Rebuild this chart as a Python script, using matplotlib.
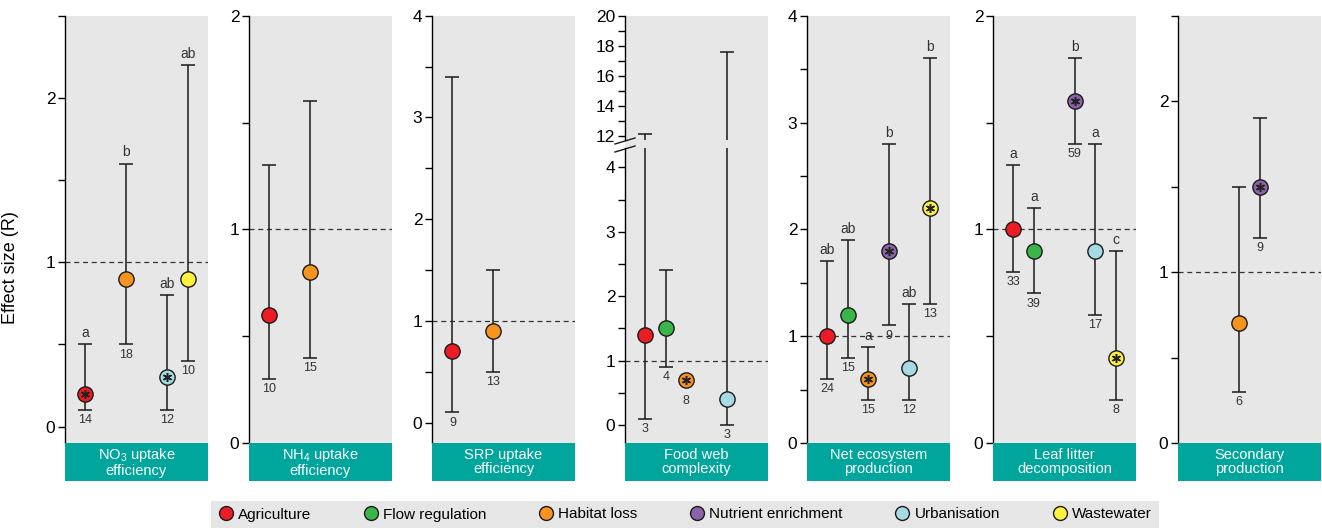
import numpy as np
import matplotlib
matplotlib.use("Agg")
import matplotlib.pyplot as plt
from matplotlib.lines import Line2D
from matplotlib.ticker import MultipleLocator

plt.rcParams['font.family'] = ['Liberation Sans', 'DejaVu Sans']
plt.rcParams['mathtext.fontset'] = 'custom'
plt.rcParams['mathtext.rm'] = 'Liberation Sans'

# Drivers and their colours
drivers = ['Agriculture', 'Flow regulation', 'Habitat loss',
           'Nutrient enrichment', 'Urbanisation', 'Wastewater']
driver_colors = ['#ed1c24', '#39b54a', '#f7941d', '#8c62a8', '#a6dbe4', '#fff23e']

# NO3 uptake efficiency
no3_drivers = ['Agriculture', 'Habitat loss', 'Urbanisation', 'Wastewater']
no3_mean = [0.2, 0.9, 0.3, 0.9]
no3_low = [0.1, 0.5, 0.1, 0.4]
no3_high = [0.5, 1.6, 0.8, 2.2]
no3_n = ['14', '18', '12', '10']
no3_letters = ['a', 'b', 'ab', 'ab']
no3_sig = [True, False, True, False]

# NH4 uptake efficiency
nh4_drivers = ['Agriculture', 'Habitat loss']
nh4_mean = [0.6, 0.8]
nh4_low = [0.3, 0.4]
nh4_high = [1.3, 1.6]
nh4_n = ['10', '15']
nh4_letters = ['', '']
nh4_sig = [False, False]

# SRP uptake efficiency
srp_drivers = ['Agriculture', 'Habitat loss']
srp_mean = [0.7, 0.9]
srp_low = [0.1, 0.5]
srp_high = [3.4, 1.5]
srp_n = ['9', '13']
srp_letters = ['', '']
srp_sig = [False, False]

# Food web complexity
fw_drivers = ['Agriculture', 'Flow regulation', 'Habitat loss', 'Urbanisation']
fw_mean = [1.4, 1.5, 0.7, 0.4]
fw_low = [0.1, 0.9, np.nan, 0.0]
fw_high = [12.1, 2.4, np.nan, 17.6]
fw_n = ['3', '4', '8', '3']
fw_letters = ['', '', '', '']
fw_sig = [False, False, True, False]

# Net ecosystem production
nep_drivers = drivers
nep_mean = [1.0, 1.2, 0.6, 1.8, 0.7, 2.2]
nep_low = [0.6, 0.8, 0.4, 1.1, 0.4, 1.3]
nep_high = [1.7, 1.9, 0.9, 2.8, 1.3, 3.6]
nep_n = ['24', '15', '15', '9', '12', '13']
nep_letters = ['ab', 'ab', 'a', 'b', 'ab', 'b']
nep_sig = [False, False, True, True, False, True]

# Leaf litter decomposition
leaf_drivers = ['Agriculture', 'Flow regulation', 'Nutrient enrichment',
                'Urbanisation', 'Wastewater']
leaf_mean = [1.0, 0.9, 1.6, 0.9, 0.4]
leaf_low = [0.8, 0.7, 1.4, 0.6, 0.2]
leaf_high = [1.3, 1.1, 1.8, 1.4, 0.9]
leaf_n = ['33', '39', '59', '17', '8']
leaf_letters = ['a', 'a', 'b', 'a', 'c']
leaf_sig = [False, False, True, False, True]

# Secondary production
sec_drivers = ['Habitat loss', 'Nutrient enrichment']
sec_mean = [0.7, 1.5]
sec_low = [0.3, 1.2]
sec_high = [1.5, 1.9]
sec_n = ['6', '9']
sec_letters = ['', '']
sec_sig = [False, True]

panel_titles = ['NO$_3$ uptake\nefficiency', 'NH$_4$ uptake\nefficiency',
                'SRP uptake\nefficiency', 'Food web\ncomplexity',
                'Net ecosystem\nproduction', 'Leaf litter\ndecomposition',
                'Secondary\nproduction']

W, H = 1322, 529
BG = '#e7e7e8'
TEAL = '#00a69c'
ax_bottom = (H - 443) / H
ax_top = (H - 15.7) / H
panel_left = [65, 249, 432, 625, 807, 993, 1178]
panel_w = 143

fig = plt.figure(figsize=(W / 100, H / 100), dpi=100)


def style_axis(ax):
    for s in ['top', 'right', 'bottom']:
        ax.spines[s].set_visible(False)
    ax.spines['left'].set_linewidth(1.0)
    ax.set_xticks([])
    ax.tick_params(axis='y', which='major', length=5, width=1, labelsize=12.5, pad=2)
    ax.tick_params(axis='y', which='minor', length=5, width=1)
    ax.set_xlim(-1, 6)


def draw_points(ax, names, mean, low, high, n, letters, sig, annotate=True):
    xs = [drivers.index(d) for d in names]
    for x, m, lo, hi, nn, let, s, d in zip(xs, mean, low, high, n, letters, sig, names):
        c = driver_colors[drivers.index(d)]
        has_err = np.isfinite(lo) and np.isfinite(hi)
        if has_err:
            ax.errorbar([x], [m], yerr=[[m - lo], [hi - m]], fmt='none',
                        ecolor='#1a1a1a', elinewidth=1.1, capsize=4.8,
                        capthick=1.1, zorder=2)
        ax.plot([x], [m], 'o', ms=11, mfc=c, mec='#1a1a1a', mew=1.0, zorder=3)
        if s:
            ax.plot([x], [m], marker=(6, 2, 0), ms=6.5, color='#222222',
                    mew=1.1, zorder=4)
        if not annotate:
            continue
        if has_err:
            ax.annotate(nn, (x, lo), xytext=(0, -3), textcoords='offset points',
                        ha='center', va='top', fontsize=9, color='#333333')
            if let:
                ax.annotate(let, (x, hi), xytext=(0, 3), textcoords='offset points',
                            ha='center', va='bottom', fontsize=10, color='#333333')
        else:
            ax.annotate(nn, (x, m), xytext=(0, -11), textcoords='offset points',
                        ha='center', va='top', fontsize=9, color='#333333')


panels = [
    (no3_drivers, no3_mean, no3_low, no3_high, no3_n, no3_letters, no3_sig, (-0.1, 2.5), [0, 1, 2]),
    (nh4_drivers, nh4_mean, nh4_low, nh4_high, nh4_n, nh4_letters, nh4_sig, (0, 2), [0, 1, 2]),
    (srp_drivers, srp_mean, srp_low, srp_high, srp_n, srp_letters, srp_sig, (-0.2, 4), [0, 1, 2, 3, 4]),
    None,
    (nep_drivers, nep_mean, nep_low, nep_high, nep_n, nep_letters, nep_sig, (0, 4), [0, 1, 2, 3, 4]),
    (leaf_drivers, leaf_mean, leaf_low, leaf_high, leaf_n, leaf_letters, leaf_sig, (0, 2), [0, 1, 2]),
    (sec_drivers, sec_mean, sec_low, sec_high, sec_n, sec_letters, sec_sig, (0, 2.5), [0, 1, 2]),
]

for i, p in enumerate(panels):
    left = panel_left[i] / W
    width = panel_w / W
    if p is not None:
        ax = fig.add_axes([left, ax_bottom, width, ax_top - ax_bottom])
        ax.set_facecolor(BG)
        style_axis(ax)
        names, mean, low, high, n, letters, sig, ylim, yt = p
        ax.set_ylim(*ylim)
        ax.set_yticks(yt)
        ax.yaxis.set_minor_locator(MultipleLocator(0.5))
        ax.axhline(1, color='#333333', lw=0.9, ls=(0, (4, 3)), zorder=1)
        draw_points(ax, names, mean, low, high, n, letters, sig)
        if i == 0:
            ax.set_ylabel('Effect size (R)', fontsize=13)
            ax.yaxis.set_label_coords(-0.32, 0.41)
    else:
        # Food web complexity: broken axis
        bg = fig.add_axes([left, ax_bottom, width, ax_top - ax_bottom])
        bg.set_facecolor(BG)
        bg.set_xticks([])
        bg.set_yticks([])
        for s in bg.spines.values():
            s.set_visible(False)
        low_top = (H - 148) / H
        up_bot = (H - 140) / H
        ax_lo = fig.add_axes([left, ax_bottom, width, low_top - ax_bottom])
        ax_up = fig.add_axes([left, up_bot, width, ax_top - up_bot])
        for a in (ax_lo, ax_up):
            a.patch.set_alpha(0)
            style_axis(a)
        ax_lo.set_ylim(-0.28, 4.3)
        ax_lo.set_yticks([0, 1, 2, 3, 4])
        ax_lo.yaxis.set_minor_locator(MultipleLocator(0.5))
        ax_up.set_ylim(11.7, 20)
        ax_up.set_yticks([12, 14, 16, 18, 20])
        ax_up.yaxis.set_minor_locator(MultipleLocator(1))
        ax_lo.axhline(1, color='#333333', lw=0.9, ls=(0, (4, 3)), zorder=1)
        draw_points(ax_lo, fw_drivers, fw_mean, fw_low, fw_high, fw_n, fw_letters, fw_sig)
        draw_points(ax_up, fw_drivers, fw_mean, fw_low, fw_high, fw_n, fw_letters, fw_sig,
                    annotate=False)
        # break marks
        h_lo = 443 - 148
        for yoff in (7, -1):
            yc = 1 + yoff / h_lo
            ax_lo.plot([-10 / panel_w, 10 / panel_w], [yc - 3 / h_lo, yc + 3 / h_lo],
                       transform=ax_lo.transAxes, color='#1a1a1a', lw=1.0,
                       clip_on=False)

    # teal label box
    lab = fig.add_axes([left, (H - 481) / H, width, 38 / H])
    lab.set_facecolor(TEAL)
    lab.set_xticks([])
    lab.set_yticks([])
    for s in lab.spines.values():
        s.set_visible(False)
    lab.text(0.5, 0.5, panel_titles[i], ha='center', va='center', color='white',
             fontsize=10.5, linespacing=1.05, transform=lab.transAxes)

handles = [Line2D([], [], ls='none', marker='o', ms=10, mfc=c, mec='#1a1a1a', mew=1.0)
           for c in driver_colors]
leg = fig.legend(handles, drivers, loc='center', bbox_to_anchor=(685 / W, 14.5 / H),
                 ncol=6, fontsize=11, frameon=True, fancybox=False,
                 handlelength=1.0, handletextpad=0.3, columnspacing=3.4,
                 borderpad=0.45, borderaxespad=0)
leg.get_frame().set_facecolor('#e6e6e6')
leg.get_frame().set_edgecolor('none')
leg.get_frame().set_alpha(1)

fig.savefig('out.png', dpi=100)
